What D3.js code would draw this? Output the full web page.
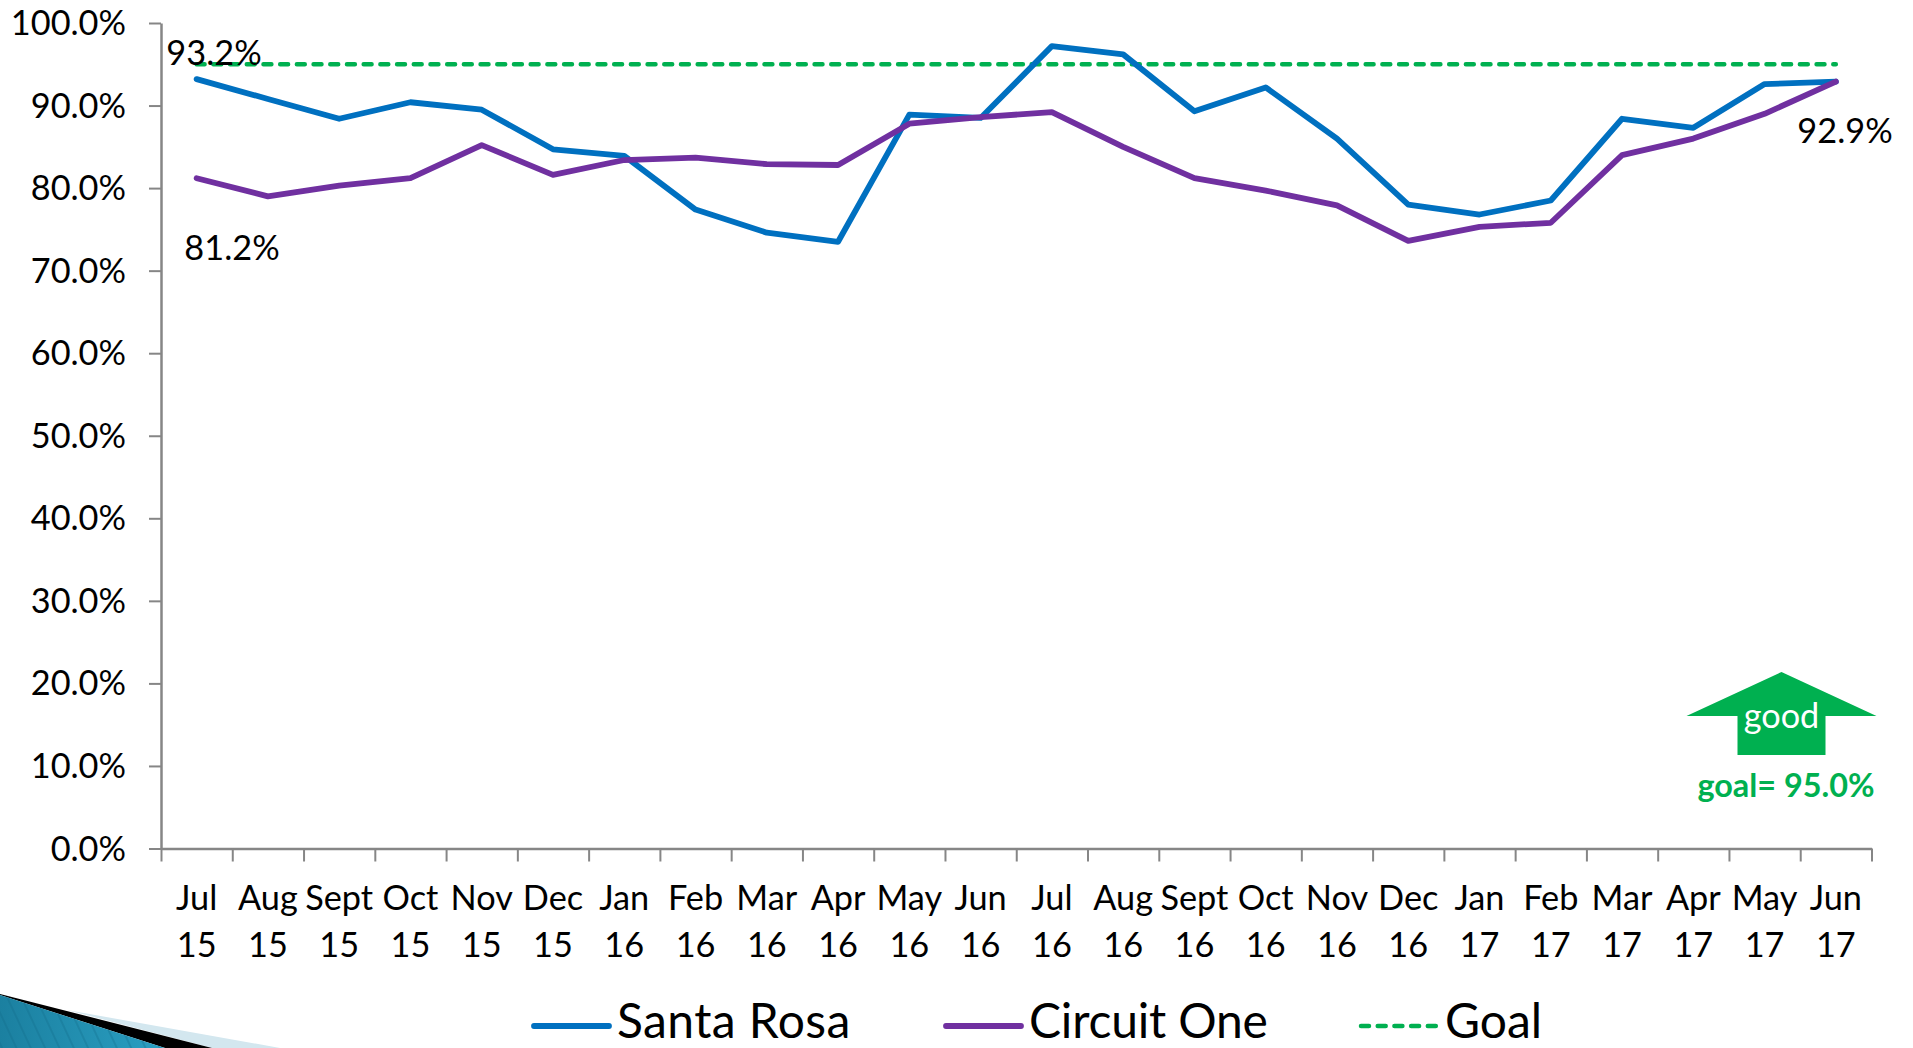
<!DOCTYPE html>
<html><head><meta charset="utf-8">
<script src="https://cdnjs.cloudflare.com/ajax/libs/d3/7.8.5/d3.min.js"></script>
<style>html,body{margin:0;padding:0;background:#fff;overflow:hidden}svg{display:block}text{font-family:Lato,"Open Sans",sans-serif;fill:#000}</style>
</head><body><svg id="c" width="1913" height="1048"></svg>
<script>
const months=["Jul","Aug","Sept","Oct","Nov","Dec","Jan","Feb","Mar","Apr","May","Jun","Jul","Aug","Sept","Oct","Nov","Dec","Jan","Feb","Mar","Apr","May","Jun"];
const years=["15","15","15","15","15","15","16","16","16","16","16","16","16","16","16","16","16","16","17","17","17","17","17","17"];
const santaRosa=[93.2,90.8,88.4,90.4,89.5,84.7,83.9,77.4,74.6,73.5,88.9,88.5,97.2,96.2,89.3,92.2,86.0,78.0,76.8,78.5,88.4,87.3,92.6,92.9];
const circuitOne=[81.2,79.0,80.3,81.2,85.2,81.6,83.4,83.7,82.9,82.8,87.8,88.6,89.2,85.0,81.2,79.7,77.9,73.6,75.3,75.8,84.0,86.0,89.0,92.9];
const goal=months.map(()=>95);
const yTicks=[0,10,20,30,40,50,60,70,80,90,100];
const svg=d3.select("#c");
const idx=d3.range(months.length);
const x=d3.scaleBand().domain(idx).range([161,1871.5]);
const y=d3.scaleLinear().domain([0,100]).range([848.5,23]);
const cx=i=>x(i)+x.bandwidth()/2;
const axisCol="#868686";
const FS=34.3;
// corner decoration
const defs=svg.append("defs");
const g=defs.append("linearGradient").attr("id","teal").attr("x1",0).attr("x2",1).attr("y1",0).attr("y2",0);
g.append("stop").attr("offset",0).attr("stop-color","#1b80a0");
g.append("stop").attr("offset",1).attr("stop-color","#2a9fc2");
const p=defs.append("pattern").attr("id","stripes").attr("width",13).attr("height",13).attr("patternUnits","userSpaceOnUse").attr("patternTransform","rotate(-25)");
p.append("rect").attr("width",2).attr("height",13).attr("fill","#0f6b8a").attr("opacity",0.3);
svg.append("polygon").attr("points","67,1010 280,1048 212,1048").attr("fill","#d3e7ef");
svg.append("polygon").attr("points","0,994 212,1048 165,1048 0,995").attr("fill","#000");
svg.append("polygon").attr("points","0,995 165,1048 0,1048").attr("fill","url(#teal)");
svg.append("polygon").attr("points","0,995 165,1048 0,1048").attr("fill","url(#stripes)");
// axes
const ya=d3.axisLeft(y).tickValues(yTicks).tickSize(12).tickSizeOuter(0).tickFormat(d=>d3.format(".1f")(d)+"%");
const yg=svg.append("g").attr("transform","translate(161,0)").call(ya);
const xg=svg.append("g").attr("transform","translate(0,848.5)").call(d3.axisBottom(d3.scaleLinear().domain([0,24]).range([161,1871.5])).tickValues(d3.range(25)).tickSize(13).tickSizeOuter(0).tickFormat(""));
[yg,xg].forEach(s=>{s.selectAll("path,line").attr("stroke",axisCol).attr("stroke-width",2);s.select("path").attr("stroke-width",2.5)});
yg.selectAll("text").attr("x",-35).attr("dy",0).attr("y",-2).attr("dominant-baseline","central").attr("font-size",FS).style("font-family","Lato").attr("fill","#000");
// category labels
const cats=svg.append("g").selectAll("g").data(idx).join("g").attr("transform",i=>`translate(${cx(i)},0)`);
cats.append("text").attr("y",910).attr("text-anchor","middle").attr("font-size",FS).text(i=>months[i]);
cats.append("text").attr("y",957).attr("text-anchor","middle").attr("font-size",FS).text(i=>years[i]);
// lines
const line=d3.line().x((d,i)=>cx(i)).y(d=>y(d));
const draw=(v,c,w,dash)=>svg.append("path").datum(v).attr("d",line).attr("fill","none").attr("stroke",c).attr("stroke-width",w).attr("stroke-linejoin","round").attr("stroke-linecap","round").attr("stroke-dasharray",dash||null);
draw(goal,"#00b050",4.4,"8,8.7");
draw(santaRosa,"#0070c0",5.8);
draw(circuitOne,"#7030a0",5.8);
// data labels
const lab=(t,xp,yp)=>svg.append("text").attr("x",xp).attr("y",yp).attr("text-anchor","middle").attr("font-size",FS).text(t);
lab("93.2%",214,65);
lab("81.2%",232,260);
lab("92.9%",1845,143);
// good arrow
const ax=1781.5;
svg.append("polygon").attr("points",[[ax,672],[ax+95,716],[ax+44,716],[ax+44,755],[ax-44,755],[ax-44,716],[ax-95,716]].map(p=>p.join(",")).join(" ")).attr("fill","#00b050");
svg.append("text").attr("x",ax).attr("y",728).attr("text-anchor","middle").attr("font-size",FS).style("fill","#fff").text("good");
svg.append("text").attr("x",1786).attr("y",797).attr("text-anchor","middle").attr("font-size",32.4).attr("font-weight",700).style("fill","#00b050").text("goal= 95.0%");
// legend
const legend=[["Santa Rosa","#0070c0",534,609,null,617,0.4],["Circuit One","#7030a0",946,1021,null,1029,-0.2],["Goal","#00b050",1361,1438,"8,8.7",1445,0]];
legend.forEach(([t,c,a,b,d,tx,ls])=>{
 svg.append("line").attr("x1",a).attr("x2",b).attr("y1",1026).attr("y2",1026).attr("stroke",c).attr("stroke-width",d?4.5:5.8).attr("stroke-linecap","round").attr("stroke-dasharray",d);
 svg.append("text").attr("x",tx).attr("y",1038).attr("font-size",48).attr("letter-spacing",ls).text(t);
});
</script></body></html>
